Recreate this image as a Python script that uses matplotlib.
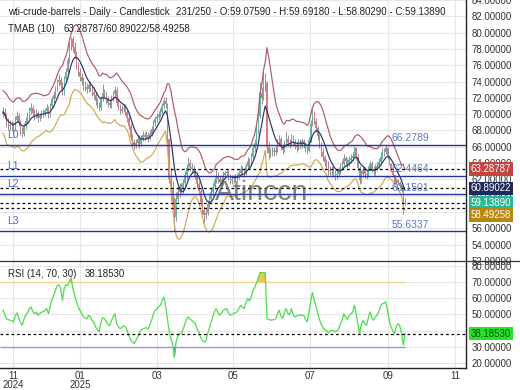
import numpy as np
import matplotlib
matplotlib.use("Agg")
import matplotlib.pyplot as plt
from matplotlib.lines import Line2D

plt.rcParams['font.family'] = ['Liberation Sans', 'DejaVu Sans']

# ---------------- data ----------------
first_open = 70.0
closes = [
    70.3, 69.8, 68.9, 68.7, 68.6, 68.5, 68.3, 69.3, 69.8, 68.9,
    68.0, 67.6, 68.5, 69.2, 69.7, 70.4, 70.8, 70.2, 69.8, 70.1,
    69.5, 69.8, 70.1, 70.1, 70.4, 70.7, 69.9, 71.0, 71.8, 72.3,
    73.1, 73.9, 74.2, 73.6, 72.6, 74.3, 75.2, 76.6, 78.4, 79.2,
    78.2, 77.4, 76.0, 75.2, 74.6, 74.1, 73.5, 73.3, 73.1, 73.6,
    73.3, 72.7, 72.4, 71.6, 71.1, 70.7, 71.9, 72.6, 72.4, 71.8,
    71.4, 71.1, 71.9, 72.5, 73.0, 71.4, 70.9, 70.4, 70.6, 70.8,
    70.3, 69.5, 68.6, 67.2, 66.6, 66.2, 66.5, 66.9, 66.4, 67.0,
    67.4, 67.2, 67.4, 67.0, 67.6, 68.2, 68.9, 69.4, 69.6, 70.0,
    70.3, 71.0, 71.6, 71.2, 66.9, 62.0, 60.7, 59.2, 57.4, 59.6,
    60.4, 60.9, 60.8, 61.5, 62.5, 63.4, 64.0, 63.5, 63.3, 62.9,
    62.6, 61.4, 60.6, 59.2, 58.3, 57.6, 57.9, 59.0, 59.6, 60.4,
    61.1, 61.9, 62.4, 62.0, 61.7, 62.1, 62.6, 62.8, 62.9, 62.3,
    61.9, 62.0, 62.1, 62.2, 62.3, 62.8, 63.3, 63.0, 62.8, 63.6,
    64.2, 64.0, 64.8, 65.9, 66.5, 68.0, 69.8, 72.6, 72.0, 74.0,
    73.8, 66.0, 65.2, 65.3, 65.5, 65.4, 65.6, 66.4, 66.9, 66.0,
    65.6, 66.3, 67.0, 66.5, 66.4, 67.2, 66.5, 66.2, 66.0, 66.6,
    66.2, 66.7, 66.3, 65.9, 65.5, 66.8, 68.8, 70.0, 69.2, 68.3,
    67.3, 66.3, 65.4, 64.7, 64.1, 63.9, 63.0, 63.1, 63.2, 62.9,
    62.5, 62.7, 63.0, 63.5, 63.9, 64.6, 64.2, 63.9, 64.4, 64.6,
    64.9, 65.8, 64.8, 63.4, 61.9, 62.7, 63.1, 62.7, 62.6, 63.3,
    63.9, 63.3, 63.0, 63.4, 63.6, 64.1, 64.8, 65.3, 65.4, 65.8,
    64.9, 63.9, 63.0, 62.5, 61.5, 61.9, 61.6, 61.2, 60.6, 59.0759,
    59.1389]
highs = [
    70.9, 70.8, 70.1, 69.5, 69.3, 69.2, 69.0, 69.8, 70.4, 70.2,
    69.3, 68.4, 68.9, 69.6, 70.3, 70.9, 71.4, 71.1, 70.6, 70.6,
    70.4, 70.2, 70.5, 70.6, 70.8, 71.2, 71.0, 71.4, 72.2, 72.8,
    73.5, 74.3, 74.9, 74.6, 74.0, 74.7, 75.7, 77.0, 78.9, 79.5,
    79.6, 78.8, 77.7, 76.4, 75.7, 75.1, 74.5, 74.1, 73.8, 74.0,
    74.1, 73.6, 73.3, 72.7, 72.0, 71.5, 72.2, 73.7, 73.1, 72.8,
    72.2, 71.8, 72.3, 72.9, 73.5, 73.3, 71.8, 71.3, 71.1, 71.3,
    71.2, 70.6, 69.8, 68.9, 67.6, 67.0, 67.0, 67.3, 67.4, 67.5,
    67.9, 67.8, 67.9, 67.8, 68.0, 68.6, 69.3, 69.8, 70.1, 70.4,
    70.8, 71.4, 72.1, 72.1, 71.4, 67.0, 63.5, 61.8, 59.8, 60.4,
    61.2, 61.6, 61.6, 62.0, 63.0, 63.9, 64.7, 64.5, 64.0, 63.8,
    63.3, 62.9, 61.8, 61.0, 59.7, 58.8, 58.6, 59.5, 60.1, 60.9,
    61.6, 62.3, 63.2, 62.9, 62.4, 62.6, 63.0, 63.2, 63.4, 63.2,
    62.7, 62.5, 62.6, 62.7, 62.8, 63.2, 63.8, 63.7, 63.4, 64.0,
    64.7, 64.6, 65.2, 66.3, 67.0, 68.6, 70.5, 74.0, 73.3, 75.3,
    75.0, 74.1, 66.6, 65.9, 66.0, 66.0, 66.1, 66.9, 67.5, 67.2,
    66.4, 66.8, 67.9, 67.4, 66.9, 67.6, 67.5, 66.9, 66.6, 67.0,
    66.9, 67.1, 67.0, 66.6, 66.2, 67.2, 69.3, 70.7, 70.4, 69.5,
    68.6, 67.6, 66.6, 65.8, 65.0, 64.5, 64.2, 63.6, 63.7, 63.6,
    63.2, 63.2, 63.5, 64.0, 64.4, 65.1, 64.9, 64.6, 64.9, 65.1,
    65.4, 66.1, 66.0, 65.1, 63.7, 63.2, 63.6, 63.5, 63.1, 63.7,
    64.3, 64.2, 63.7, 63.9, 64.1, 64.6, 65.3, 65.8, 65.9, 66.2789,
    66.0, 65.0, 64.0, 63.2, 62.6, 62.2, 62.1, 61.8, 61.3, 60.8,
    59.6918]
lows = [
    69.6, 69.4, 68.4, 68.1, 68.0, 67.9, 67.6, 68.0, 69.0, 68.5,
    67.5, 67.2, 67.3, 68.2, 68.9, 69.4, 70.0, 69.8, 69.3, 69.5,
    69.0, 69.2, 69.5, 69.7, 69.8, 70.1, 69.5, 69.7, 70.7, 71.4,
    72.0, 72.8, 73.5, 73.1, 72.3, 72.4, 74.0, 74.9, 76.3, 77.9,
    77.6, 76.9, 75.5, 74.7, 74.1, 73.6, 73.0, 72.8, 72.6, 72.7,
    72.9, 72.2, 71.9, 71.1, 70.7, 70.4, 70.5, 71.6, 72.0, 71.3,
    70.9, 70.7, 70.8, 71.6, 72.2, 71.0, 70.5, 70.0, 70.1, 70.3,
    69.9, 69.1, 68.2, 66.8, 66.1, 65.7, 65.8, 66.1, 65.9, 66.1,
    66.7, 66.8, 66.9, 66.6, 66.8, 67.3, 67.9, 68.6, 69.1, 69.3,
    69.7, 70.0, 70.7, 70.8, 66.5, 61.6, 59.3, 58.6, 55.6337, 56.9,
    59.2, 59.9, 60.2, 60.3, 61.1, 62.1, 63.0, 63.0, 62.8, 62.4,
    62.1, 60.9, 60.1, 58.7, 57.7, 56.6, 57.1, 57.6, 58.6, 59.2,
    60.0, 60.8, 61.5, 61.6, 61.2, 61.3, 61.8, 62.2, 62.4, 61.9,
    61.4, 61.4, 61.6, 61.7, 61.8, 62.0, 62.5, 62.6, 62.3, 62.5,
    63.3, 63.5, 63.7, 64.5, 65.4, 66.2, 67.6, 69.5, 71.2, 71.7,
    72.8, 65.2, 64.5, 64.7, 64.9, 64.9, 65.0, 65.3, 66.1, 65.6,
    65.1, 65.3, 66.0, 66.1, 65.9, 66.1, 66.1, 65.7, 65.4, 65.6,
    65.7, 65.9, 65.8, 65.3, 65.1, 65.3, 66.6, 68.5, 68.8, 67.8,
    66.8, 65.8, 64.9, 64.2, 63.6, 63.3, 62.5, 62.5, 62.6, 62.3,
    61.9, 62.0, 62.3, 62.7, 63.1, 63.6, 63.7, 63.4, 63.6, 64.0,
    64.2, 64.6, 64.4, 63.0, 61.4, 61.5, 62.3, 62.2, 62.1, 62.3,
    63.0, 62.9, 62.5, 62.6, 63.0, 63.3, 63.8, 64.5, 64.9, 65.1,
    64.5, 63.8, 62.9, 62.3, 61.4, 61.3, 61.4, 61.0, 60.4, 57.8,
    58.8029]
rsi_values = [
    52.6, 50.0, 47.4, 46.8, 46.4, 46.0, 45.4, 49.0, 51.0, 48.0,
    45.0, 43.3, 47.0, 49.5, 51.0, 53.5, 54.7, 52.0, 50.5, 51.5,
    49.5, 50.5, 51.5, 51.6, 52.5, 53.6, 50.5, 55.0, 59.5, 61.9,
    65.0, 68.0, 68.5, 66.0, 58.8, 66.0, 68.5, 68.0, 70.5, 72.7,
    66.0, 62.0, 58.0, 55.0, 52.6, 50.5, 48.5, 47.8, 47.4, 49.5,
    48.5, 46.2, 45.0, 42.2, 40.5, 39.2, 45.0, 48.0, 47.5, 45.5,
    44.0, 43.0, 46.0, 48.5, 50.5, 44.3, 42.5, 41.2, 42.0, 43.0,
    42.2, 40.0, 37.0, 34.5, 32.9, 32.0, 33.8, 36.0, 38.6, 40.5,
    40.8, 41.5, 41.8, 41.0, 43.5, 46.4, 50.0, 52.6, 53.5, 54.8,
    55.7, 58.5, 60.9, 55.7, 48.0, 40.0, 35.0, 32.0, 23.6, 33.0,
    36.5, 38.1, 38.1, 40.5, 44.0, 47.0, 48.5, 47.0, 46.4, 45.2,
    44.3, 41.0, 39.2, 36.0, 34.0, 33.0, 33.2, 38.0, 41.2, 45.0,
    48.5, 52.0, 53.6, 51.0, 49.5, 51.0, 52.6, 53.2, 53.6, 51.0,
    49.5, 50.0, 50.5, 51.2, 51.6, 53.8, 55.7, 54.5, 53.6, 57.5,
    59.9, 58.4, 61.0, 65.0, 66.8, 69.5, 72.5, 76.0, 76.0, 76.0,
    76.0, 47.4, 47.0, 46.4, 46.8, 46.6, 47.4, 50.5, 52.6, 49.0,
    47.5, 51.0, 53.6, 50.5, 50.0, 53.6, 50.0, 48.5, 49.0, 49.5,
    49.5, 49.5, 49.5, 47.0, 45.4, 51.0, 58.0, 63.6, 59.0, 55.0,
    51.0, 47.0, 44.0, 42.0, 40.5, 40.2, 38.5, 39.5, 40.2, 40.0,
    39.2, 39.8, 41.2, 44.0, 46.4, 50.5, 48.5, 47.0, 49.5, 50.3,
    51.5, 55.7, 51.0, 44.0, 38.1, 44.0, 46.4, 44.0, 43.3, 48.0,
    51.6, 48.0, 46.4, 48.5, 49.5, 52.0, 55.0, 56.7, 57.0, 57.8,
    52.0, 46.4, 42.0, 40.0, 38.0, 42.5, 44.3, 43.0, 38.1, 31.0,
    38.1853]

title_text = "wti-crude-barrels - Daily - Candlestick"
ohlc_text = "231/250 - O:59.07590 - H:59.69180 - L:58.80290 - C:59.13890"
tmab_label = "TMAB (10)"
tmab_text = "63.28787/60.89022/58.49258"
rsi_label = "RSI (14, 70, 30)"
rsi_text = "38.18530"
level_values = [66.2789, 62.4464, 60.1501, 55.6337]
level_names = ["L0", "L1", "L2", "L3"]
level_texts = ["66.2789", "62.4464", "60.1501", "55.6337"]
band_last = [63.28787, 60.89022, 58.49258]
last_close = 59.13890
rsi_last = 38.18530
month_pos = [5.7, 44.05, 88.1, 131.6, 175.7, 220.3, 258.6]
month_labels = ["11\n2024", "01\n2025", "03", "05", "07", "09", "11"]
watermark = "Atinccn"

# ---------------- indicator helpers ----------------
c = np.array(closes)
h = np.array(highs)
l = np.array(lows)
o = np.r_[first_open, c[:-1]]
n = len(c)
idx = np.arange(n)


def wma(arr, period=10):
    out = np.empty(len(arr))
    for i in range(len(arr)):
        w = arr[max(0, i - period + 1):i + 1]
        k = np.arange(1, len(w) + 1)
        out[i] = np.dot(w, k) / k.sum()
    return out


prev_c = np.r_[first_open, c[:-1]]
tr = np.maximum(h, prev_c) - np.minimum(l, prev_c)
mid = wma(c)
atr = wma(tr)
upper = mid + 2 * atr
lower = mid - 2 * atr

# ---------------- figure ----------------
W, H = 520, 390
fig = plt.figure(figsize=(W / 100, H / 100), dpi=100)


def fx(px):
    return px / W


def fy(py):
    return 1 - py / H


ax = fig.add_axes([0, fy(261), fx(466), 261 / H])
axr = fig.add_axes([0, fy(368), fx(466), 107 / H], sharex=ax)

xl = (-3 / 1.748, (466 - 3) / 1.748)
grid_c = '#e6e6e6'

# main panel
ax.set_xlim(*xl)
ax.set_ylim(51.995, 83.67)
yt = np.arange(52, 86, 2)
ax.set_yticks(yt)
ax.set_yticklabels([f"{v:.5f}" for v in yt])
ax.yaxis.tick_right()
ax.tick_params(axis='y', length=0, pad=4, labelsize=7, labelcolor='#333333')
ax.tick_params(axis='x', length=0, labelbottom=False)
for s in ['top', 'left', 'bottom']:
    ax.spines[s].set_visible(False)
ax.spines['right'].set_color('#222222')
ax.spines['right'].set_linewidth(1.0)
for v in yt:
    ax.axhline(v, color=grid_c, lw=0.8, zorder=0)
for p in month_pos:
    ax.axvline(p, color=grid_c, lw=0.8, zorder=0)

# watermark
fig.text(fx(262), fy(193), watermark, fontsize=20.5, color='#555555',
         alpha=0.75, ha='center', va='center', zorder=2)

# candles
up = c >= o
ax.vlines(idx, l, h, color='#777777', lw=0.55, zorder=3)
ax.bar(idx[up], (c - o)[up], bottom=o[up], width=0.7, color='#5fb8a2',
       zorder=4, linewidth=0)
ax.bar(idx[~up], (o - c)[~up], bottom=c[~up], width=0.7, color='#d97a82',
       zorder=4, linewidth=0)

# TMAB bands
ax.plot(idx, upper, color='#ad5a68', lw=0.85, zorder=5)
ax.plot(idx, mid, color='#2b3068', lw=0.85, zorder=5)
ax.plot(idx, lower, color='#cfa855', lw=0.85, zorder=5)

# level lines
for val, name, txt in zip(level_values, level_names, level_texts):
    ax.axhline(val, color='#2533a0', lw=1.0, zorder=6)
    ax.annotate(name, xy=(0.015, val), xycoords=('axes fraction', 'data'),
                xytext=(0, 7.2), textcoords='offset points', ha='left',
                va='center', fontsize=7.5, color='#4a66c8', zorder=7)
    ax.annotate(txt, xy=(392 / 466, val), xycoords=('axes fraction', 'data'),
                xytext=(0, 4.6), textcoords='offset points', ha='left',
                va='center', fontsize=7.5, color='#5a78cc', zorder=7)

# dashed current-value lines and right labels
for val in band_last + [last_close]:
    ax.axhline(val, color='black', lw=0.9, ls=(0, (2.2, 2.2)), zorder=6)
label_vals = [band_last[0], band_last[1], last_close, band_last[2]]
label_cols = ['#c4443f', '#1e2a5e', '#26b896', '#b8860b']
label_shift = [0, 0, 0, -4.8]
for val, col, dy in zip(label_vals, label_cols, label_shift):
    ax.annotate(f"{val:.5f}", xy=(1, val), xycoords=('axes fraction', 'data'),
                xytext=(3.5, dy), textcoords='offset points', ha='left',
                va='center', fontsize=7, color='white', annotation_clip=False,
                zorder=10,
                bbox=dict(boxstyle='square,pad=0.2', fc=col, ec='none'))

# RSI panel
axr.set_xlim(*xl)
axr.set_ylim(16.77, 83.2)
rt = np.arange(20, 90, 10)
axr.set_yticks(rt)
axr.set_yticklabels([f"{v:.5f}" for v in rt])
axr.yaxis.tick_right()
axr.tick_params(axis='y', length=0, pad=4, labelsize=7, labelcolor='#333333')
axr.set_xticks(month_pos)
axr.set_xticklabels(month_labels)
axr.tick_params(axis='x', length=0, pad=2, labelsize=7, labelcolor='#333333')
for t in axr.get_xticklabels():
    t.set_linespacing(0.95)
axr.spines['top'].set_visible(False)
axr.spines['left'].set_visible(False)
for s in ['right', 'bottom']:
    axr.spines[s].set_color('#222222')
    axr.spines[s].set_linewidth(1.0)
for v in rt:
    axr.axhline(v, color=grid_c, lw=0.8, zorder=0)
for p in month_pos:
    axr.axvline(p, color=grid_c, lw=0.8, zorder=0)

r = np.array(rsi_values)
axr.hlines(70, xl[0], idx[-1], color='#f2d898', lw=1.0, zorder=2)
axr.hlines(30, xl[0], idx[-1], color='#9a9ad8', lw=1.0, zorder=2)
axr.fill_between(idx, r, 70, where=r > 70, interpolate=True,
                 color='#f5c445', lw=0, zorder=3)
axr.fill_between(idx, r, 30, where=r < 30, interpolate=True,
                 color='#5868b8', lw=0, zorder=3)
axr.plot(idx, r, color='#4ddc4d', lw=0.9, zorder=4)
axr.axhline(rsi_last, color='black', lw=0.9, ls=(0, (2.2, 2.2)), zorder=5)
axr.annotate(f"{rsi_last:.5f}", xy=(1, rsi_last),
             xycoords=('axes fraction', 'data'), xytext=(3.5, 0),
             textcoords='offset points', ha='left', va='center', fontsize=7,
             color='#0b4a0b', annotation_clip=False, zorder=10,
             bbox=dict(boxstyle='square,pad=0.2', fc='#22e622', ec='none'))

# separator
fig.add_artist(Line2D([0, 1], [fy(261), fy(261)], transform=fig.transFigure,
                      color='#333333', lw=0.9))

# header texts
fig.text(fx(8), fy(12.3), title_text, fontsize=7, color='#222222',
         ha='left', va='center')
fig.text(fx(176), fy(12.3), ohlc_text, fontsize=7, color='#222222',
         ha='left', va='center')
fig.text(fx(8), fy(29.3), tmab_label, fontsize=7, color='#222222',
         ha='left', va='center')
fig.text(fx(63), fy(29.3), tmab_text, fontsize=7, color='#222222',
         ha='left', va='center')
fig.text(fx(8), fy(273.7), rsi_label, fontsize=7, color='#222222',
         ha='left', va='center')
fig.text(fx(85), fy(273.7), rsi_text, fontsize=7, color='#222222',
         ha='left', va='center')

fig.savefig("out.png", dpi=100)
